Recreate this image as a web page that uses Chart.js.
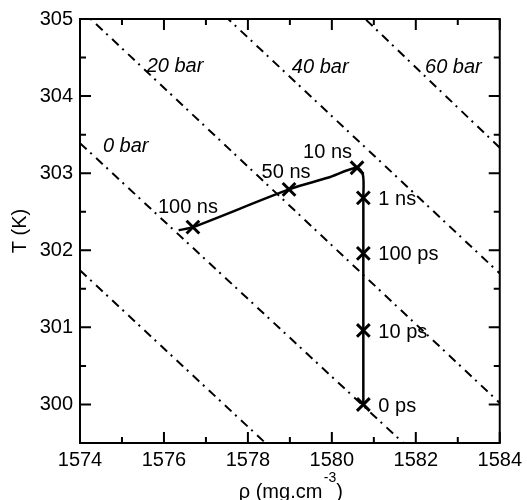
<!DOCTYPE html>
<html><head><meta charset="utf-8">
<script src="https://cdn.jsdelivr.net/npm/chart.js@4"></script>
<style>html,body{margin:0;padding:0;background:#fff;} canvas{display:block;}</style>
</head><body>
<canvas id="c" width="527" height="500"></canvas>
<script>
// ---- data ----
const xTicks = [1574, 1576, 1578, 1580, 1582, 1584];
const xMinorTicks = [1575, 1577, 1579, 1581, 1583];
const yTicks = [300, 301, 302, 303, 304, 305];
const yMinorTicks = [299.5, 300.5, 301.5, 302.5, 303.5, 304.5];

const markerLabels = ['0 ps', '10 ps', '100 ps', '1 ns', '10 ns', '50 ns', '100 ns'];
const markerRho = [1580.75, 1580.75, 1580.75, 1580.75, 1580.6, 1578.98, 1576.69];
const markerT   = [300.0, 300.96, 301.96, 302.68, 303.07, 302.79, 302.30];

const pathRho = [1580.75, 1580.75, 1580.75, 1580.75, 1580.74, 1580.6, 1579.9, 1578.98, 1576.69, 1576.35];
const pathT   = [300.0, 300.96, 301.96, 302.68, 302.98, 303.07, 302.94, 302.79, 302.30, 302.26];

const isobarNames = ['', '0 bar', '20 bar', '40 bar', '60 bar'];
const isobarRhoEnds = [1574, 1584];
const isobarTAt1574 = [301.74, 303.39, 305.13, 306.80, 308.54];
const isobarTAt1584 = [296.67, 298.34, 300.02, 301.70, 303.33];
const isobarLabelRho = [null, 1574.545, 1575.588, 1579.047, 1582.22];
const isobarLabelT   = [null, 303.277, 304.313, 304.30, 304.30];

// ---- label placement (pixel offsets from marker) ----
const labelPlacement = [
  {dx: 15, dy: 8, align: 'left'},
  {dx: 15, dy: 7.5, align: 'left'},
  {dx: 15, dy: 7, align: 'left'},
  {dx: 15, dy: 7.5, align: 'left'},
  {dx: -5, dy: -10, align: 'right'},
  {dx: -3, dy: -11, align: 'center'},
  {dx: -5, dy: -14, align: 'center'}
];

const FONT = 'Liberation Sans, Arial, Helvetica, sans-serif';

const datasets = [];
datasets.push({
  label: 'markers',
  data: markerRho.map((r, i) => ({x: r, y: markerT[i]})),
  showLine: false,
  pointStyle: 'crossRot',
  pointRadius: 9,
  pointBorderWidth: 3,
  pointBorderColor: '#000',
  pointBackgroundColor: '#000'
});
datasets.push({
  label: 'path',
  data: pathRho.map((r, i) => ({x: r, y: pathT[i]})),
  showLine: true,
  borderColor: '#000',
  borderWidth: 2.5,
  pointRadius: 0,
  tension: 0.3
});
isobarNames.forEach((n, i) => {
  datasets.push({
    label: 'isobar ' + n,
    data: [{x: isobarRhoEnds[0], y: isobarTAt1574[i]}, {x: isobarRhoEnds[1], y: isobarTAt1584[i]}],
    showLine: true,
    borderColor: '#000',
    borderWidth: 2,
    borderDash: [9, 5, 2, 6],
    pointRadius: 0,
    clip: 0
  });
});

const decor = {
  id: 'decor',
  afterDatasetsDraw(chart) {
    const ctx = chart.ctx, xs = chart.scales.x, ys = chart.scales.y;
    ctx.save();
    ctx.fillStyle = '#000';
    ctx.font = '20px ' + FONT;
    ctx.textBaseline = 'alphabetic';
    markerLabels.forEach((t, i) => {
      const p = labelPlacement[i];
      ctx.textAlign = p.align;
      ctx.fillText(t, xs.getPixelForValue(markerRho[i]) + p.dx, ys.getPixelForValue(markerT[i]) + p.dy);
    });
    ctx.font = 'italic 20px ' + FONT;
    ctx.textAlign = 'left';
    isobarNames.forEach((n, i) => {
      if (!n) return;
      ctx.fillText(n, xs.getPixelForValue(isobarLabelRho[i]), ys.getPixelForValue(isobarLabelT[i]));
    });
    ctx.restore();
  },
  afterDraw(chart) {
    const ctx = chart.ctx, a = chart.chartArea, xs = chart.scales.x, ys = chart.scales.y;
    ctx.save();
    ctx.strokeStyle = '#000';
    ctx.lineWidth = 2;
    ctx.lineCap = 'butt';
    const MAJ = 11, MIN = 6;
    ctx.beginPath();
    const xt = (v, len) => {
      const px = xs.getPixelForValue(v);
      ctx.moveTo(px, a.bottom); ctx.lineTo(px, a.bottom - len);
      ctx.moveTo(px, a.top); ctx.lineTo(px, a.top + len);
    };
    const yt = (v, len) => {
      const py = ys.getPixelForValue(v);
      ctx.moveTo(a.left, py); ctx.lineTo(a.left + len, py);
      ctx.moveTo(a.right, py); ctx.lineTo(a.right - len, py);
    };
    xTicks.forEach(v => xt(v, MAJ));
    xMinorTicks.forEach(v => xt(v, MIN));
    yTicks.forEach(v => yt(v, MAJ));
    yMinorTicks.forEach(v => yt(v, MIN));
    ctx.stroke();
    ctx.strokeRect(a.left, a.top, a.right - a.left, a.bottom - a.top);

    ctx.fillStyle = '#000';
    ctx.font = '20px ' + FONT;
    ctx.save();
    ctx.translate(20, (a.top + a.bottom) / 2);
    ctx.rotate(-Math.PI / 2);
    ctx.textAlign = 'center';
    ctx.textBaseline = 'middle';
    ctx.fillText('T (K)', 0, 0);
    ctx.restore();

    const part1 = 'ρ (mg.cm', sup = '-3', part2 = ')';
    ctx.font = '20px ' + FONT;
    const w1 = ctx.measureText(part1).width, w3 = ctx.measureText(part2).width;
    ctx.font = '14px ' + FONT;
    const w2 = ctx.measureText(sup).width;
    const gap = 1.5;
    const total = w1 + gap + w2 + w3;
    const cx = (a.left + a.right) / 2 + 1;
    const x0 = cx - total / 2;
    const base = 498;
    ctx.textAlign = 'left';
    ctx.textBaseline = 'alphabetic';
    ctx.font = '20px ' + FONT;
    ctx.fillText(part1, x0, base);
    ctx.font = '14px ' + FONT;
    ctx.fillText(sup, x0 + w1 + gap, base - 16);
    ctx.font = '20px ' + FONT;
    ctx.fillText(part2, x0 + w1 + gap + w2, base);
    ctx.restore();
  }
};

new Chart(document.getElementById('c'), {
  type: 'scatter',
  data: {datasets},
  options: {
    responsive: false,
    devicePixelRatio: 1,
    animation: false,
    layout: {padding: {top: 19, right: 25, left: 0, bottom: 0}},
    plugins: {legend: {display: false}, tooltip: {enabled: false}},
    scales: {
      x: {
        type: 'linear', min: 1574, max: 1584,
        grid: {display: false, drawTicks: false},
        border: {display: false},
        afterBuildTicks: s => { s.ticks = xTicks.map(v => ({value: v})); },
        afterFit: s => { s.height = 57; },
        ticks: {color: '#000', font: {family: FONT, size: 20}, padding: 5, maxRotation: 0,
                callback: v => String(v)}
      },
      y: {
        type: 'linear', min: 299.5, max: 305,
        grid: {display: false, drawTicks: false},
        border: {display: false},
        afterBuildTicks: s => { s.ticks = yTicks.map(v => ({value: v})); },
        afterFit: s => { s.width = 80; },
        ticks: {color: '#000', font: {family: FONT, size: 20}, padding: 7,
                callback: v => String(v)}
      }
    }
  },
  plugins: [decor]
});
</script>
</body></html>
